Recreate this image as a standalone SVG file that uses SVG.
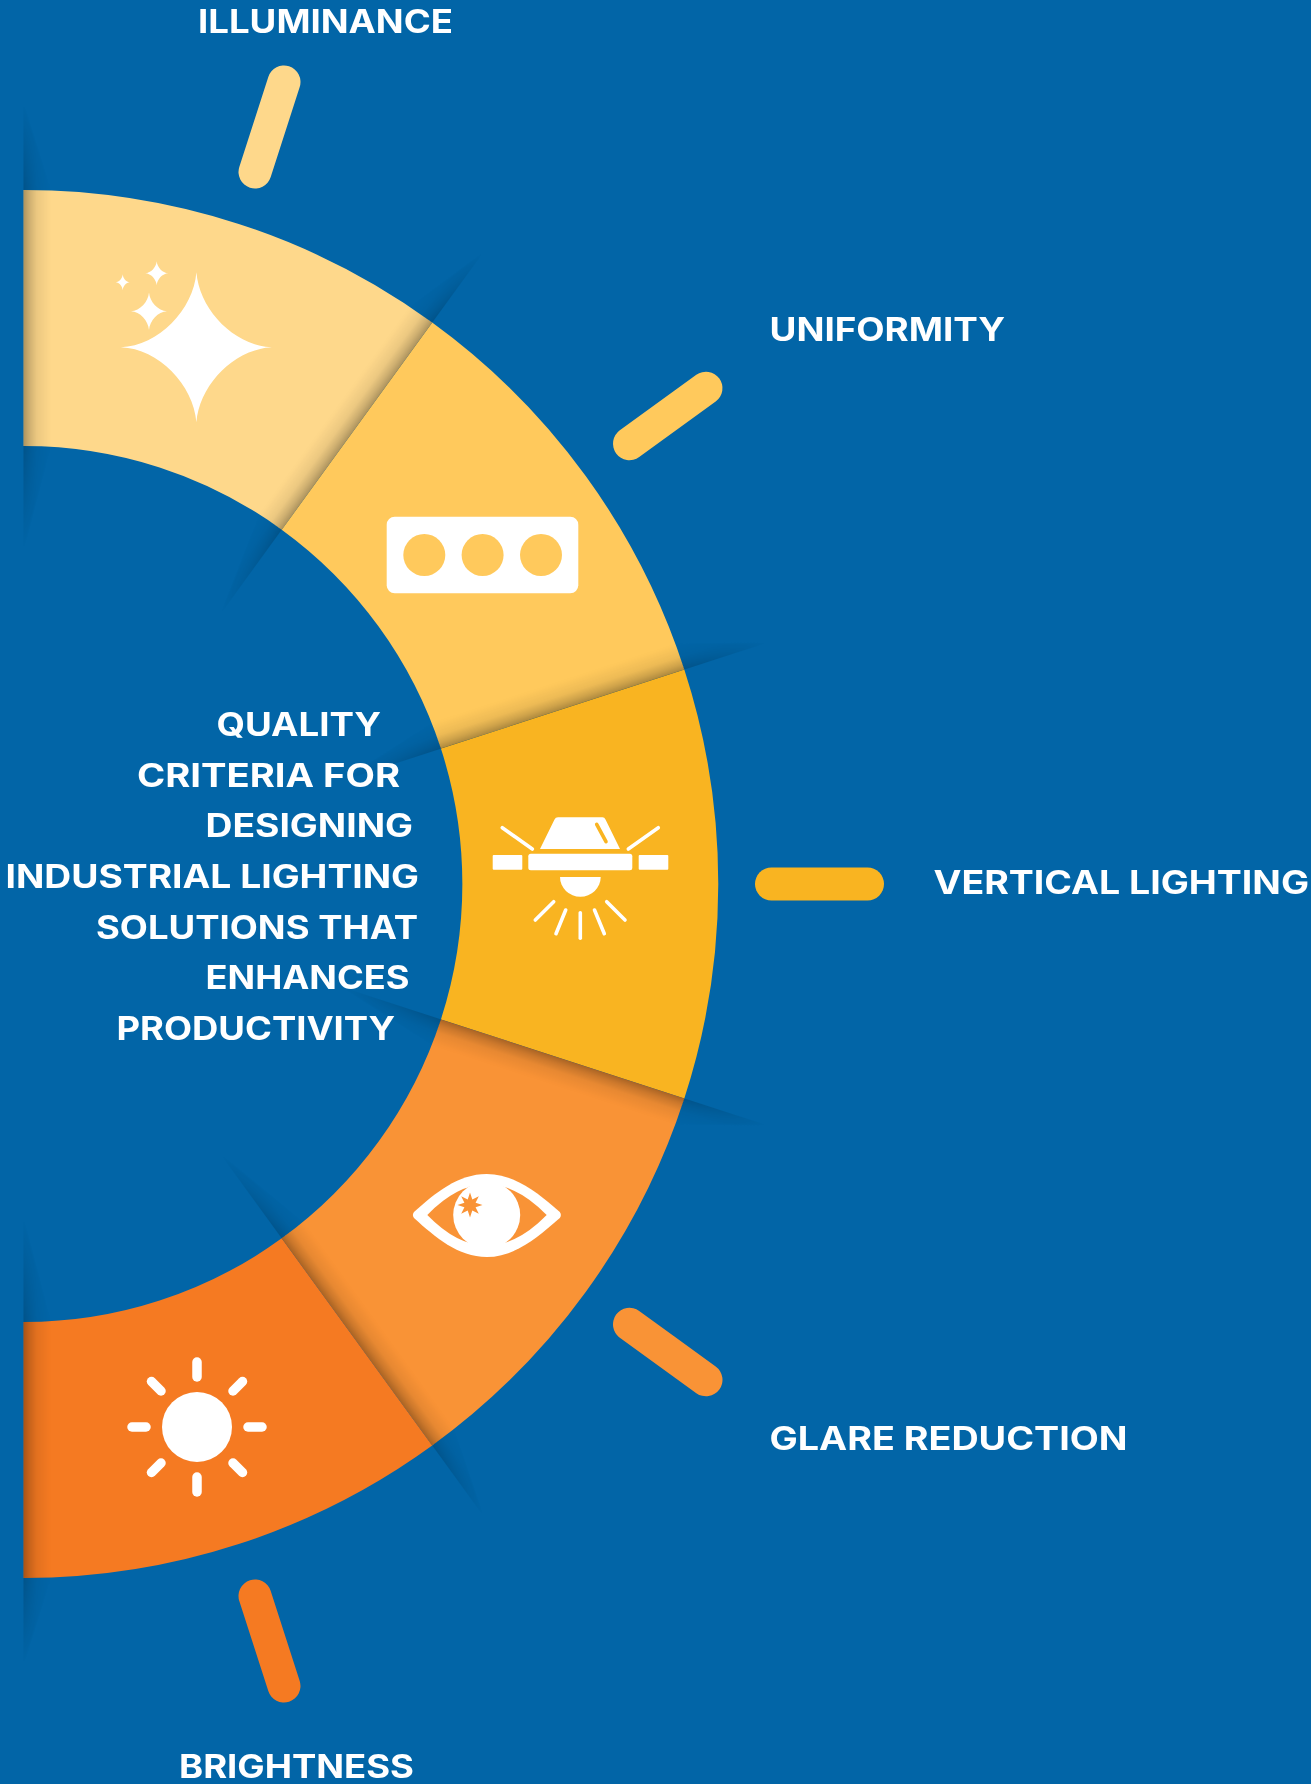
<svg xmlns="http://www.w3.org/2000/svg" xmlns:xlink="http://www.w3.org/1999/xlink" width="1311" height="1784" viewBox="0 0 1311 1784">
<style>
.t{font-family:"Inter","Liberation Sans",sans-serif;font-weight:700;font-size:32px;fill:#fff}
.w{fill:#fff}
.ray{stroke:#fff;stroke-width:3.6;stroke-linecap:round;fill:none}
.sun{stroke:#fff;stroke-width:9.5;stroke-linecap:round;fill:none}
.tick{stroke-width:33;stroke-linecap:round;fill:none}
</style>
<defs>
<linearGradient id="sg" x1="0" y1="1" x2="0" y2="0">
<stop offset="0" stop-color="#000" stop-opacity=".32"/>
<stop offset=".2" stop-color="#000" stop-opacity=".2"/>
<stop offset=".5" stop-color="#000" stop-opacity=".07"/>
<stop offset="1" stop-color="#000" stop-opacity="0"/>
</linearGradient>
<polygon id="sh" points="335,0 780,0 694,-27 438,-27" fill="url(#sg)"/>
<radialGradient id="rg" gradientUnits="userSpaceOnUse" cx="24.3" cy="884" r="780">
<stop offset=".43" stop-color="#fff" stop-opacity="0"/>
<stop offset=".5615" stop-color="#fff" stop-opacity=".55"/>
<stop offset=".5615" stop-color="#fff" stop-opacity="1"/>
<stop offset=".8897" stop-color="#fff" stop-opacity="1"/>
<stop offset=".8897" stop-color="#fff" stop-opacity=".55"/>
<stop offset="1" stop-color="#fff" stop-opacity="0"/>
</radialGradient>
<mask id="rm" maskUnits="userSpaceOnUse" x="0" y="0" width="1311" height="1784"><rect width="1311" height="1784" fill="url(#rg)"/></mask>
<path id="star" d="M0-1C.04-.5.5-.02 1 0C.5.02.04.5 0 1C-.04.5-.5.02-1 0C-.5-.02-.04-.5 0-1Z" fill="#fff"/>
</defs>
<rect width="1311" height="1784" fill="#0265a7"/>
<g id="ring-illuminance"><path d="M23.5 190H24.3A694 694 0 0 1 432.2 322.5L281.7 529.7A438 438 0 0 0 24.3 446H23.5Z" fill="#fed88b"/></g>
<g id="ring-uniformity"><path d="M432.2 322.5A694 694 0 0 1 684.3 669.5L440.9 748.6A438 438 0 0 0 281.7 529.7Z" fill="#ffc95c"/></g>
<g id="ring-vertical"><path d="M684.3 669.5A694 694 0 0 1 684.3 1098.5L440.9 1019.4A438 438 0 0 0 440.9 748.6Z" fill="#f9b421"/></g>
<g id="ring-glare"><path d="M684.3 1098.5A694 694 0 0 1 432.2 1445.5L281.7 1238.3A438 438 0 0 0 440.9 1019.4Z" fill="#f99336"/></g>
<g id="ring-brightness"><path d="M432.2 1445.5A694 694 0 0 1 24.3 1578H23.5V1322H24.3A438 438 0 0 0 281.7 1238.3Z" fill="#f57a22"/></g>
<g id="shadows" mask="url(#rm)">
<g transform="translate(24.3 884)">
<use xlink:href="#sh" href="#sh" transform="rotate(-54)"/>
<use xlink:href="#sh" href="#sh" transform="rotate(-18)"/>
<use xlink:href="#sh" href="#sh" transform="rotate(18) scale(1 -1)"/>
<use xlink:href="#sh" href="#sh" transform="rotate(54)"/>
</g>
<g transform="translate(23.5 884)">
<use xlink:href="#sh" href="#sh" transform="rotate(-90) scale(1 -1)"/>
<use xlink:href="#sh" href="#sh" transform="rotate(90)"/>
</g>
</g>
<g id="connectors">
<line class="tick" x1="255" y1="172" x2="284" y2="82" stroke="#fed88b"/>
<line class="tick" x1="629.5" y1="443.7" x2="706" y2="388.2" stroke="#ffc95c"/>
<line class="tick" x1="771.5" y1="884" x2="867.5" y2="884" stroke="#f9b421"/>
<line class="tick" x1="629.5" y1="1324.3" x2="706" y2="1379.8" stroke="#f99336"/>
<line class="tick" x1="255" y1="1596" x2="284" y2="1686" stroke="#f57a22"/>
</g>
<g id="icon-illuminance">
<use href="#star" transform="translate(196.4 347.3) scale(75.5 75)"/>
<use href="#star" transform="translate(149 311.3) scale(18 18.7)"/>
<use href="#star" transform="translate(156.7 273.3) scale(11.5 12)"/>
<use href="#star" transform="translate(122.7 282.3) scale(7 8)"/>
</g>
<g id="icon-uniformity">
<rect class="w" x="386.7" y="516.7" width="191.6" height="76.6" rx="8"/>
<circle cx="424.3" cy="555" r="21" fill="#ffc95c"/>
<circle cx="482.6" cy="555" r="21" fill="#ffc95c"/>
<circle cx="541" cy="555" r="21" fill="#ffc95c"/>
</g>
<g id="icon-vertical">
<path class="w" d="M558 817.3H602.5Q604.5 817.3 605.5 819.5L620 849H540L554.5 819.5Q555.5 817.3 558 817.3Z"/>
<line x1="596.7" y1="824.3" x2="606" y2="841.7" stroke="#f9b421" stroke-width="3.6" stroke-linecap="round"/>
<rect class="w" x="528.3" y="853.7" width="104" height="16.6" rx="2.5"/>
<rect class="w" x="492.7" y="855" width="29.6" height="14.7" rx="1"/>
<rect class="w" x="638.7" y="855" width="29.6" height="14.7" rx="1"/>
<path class="w" d="M560 877H600.7A20.3 19.7 0 0 1 560 877Z"/>
<line class="ray" x1="502.3" y1="827.7" x2="532.3" y2="849"/>
<line class="ray" x1="658.3" y1="827.7" x2="628.3" y2="849"/>
<line class="ray" x1="580.3" y1="912.7" x2="580.3" y2="938.3"/>
<line class="ray" x1="565.7" y1="910" x2="556" y2="933.7"/>
<line class="ray" x1="594.5" y1="910" x2="604.3" y2="933.7"/>
<line class="ray" x1="553.7" y1="901.7" x2="535.3" y2="920"/>
<line class="ray" x1="606.7" y1="901.7" x2="625" y2="920"/>
</g>
<g id="icon-glare">
<path class="w" d="M414 1212C435 1193 458 1174 486.7 1174C515 1174 538 1193 559.8 1212Q562 1215 559.8 1218C538 1237 515 1257 486.7 1257C458 1257 435 1237 414 1218Q411.8 1215 414 1212Z"/>
<path d="M427.3 1215Q486.7 1153.7 546.7 1215Q486.7 1276.3 427.3 1215Z" fill="#f99336"/>
<circle class="w" cx="486.7" cy="1215" r="33.5"/>
<polygon fill="#f99336" points="470,1192.5 472.3,1199.4 478.8,1196.2 475.6,1202.7 482.5,1205 475.6,1207.3 478.8,1213.8 472.3,1210.6 470,1217.5 467.7,1210.6 461.2,1213.8 464.4,1207.3 457.5,1205 464.4,1202.7 461.2,1196.2 467.7,1199.4"/>
</g>
<g id="icon-brightness">
<circle class="w" cx="197" cy="1427" r="35"/>
<line class="sun" x1="197" y1="1362" x2="197" y2="1377"/>
<line class="sun" x1="197" y1="1477" x2="197" y2="1492"/>
<line class="sun" x1="132" y1="1427" x2="146" y2="1427"/>
<line class="sun" x1="248" y1="1427" x2="262" y2="1427"/>
<line class="sun" x1="151.5" y1="1381.5" x2="161" y2="1391"/>
<line class="sun" x1="242.5" y1="1381.5" x2="233" y2="1391"/>
<line class="sun" x1="151.5" y1="1472.5" x2="161" y2="1463"/>
<line class="sun" x1="242.5" y1="1472.5" x2="233" y2="1463"/>
</g>
<g id="label-illuminance"><text class="t" x="198" y="33" textLength="255" lengthAdjust="spacingAndGlyphs">ILLUMINANCE</text></g>
<g id="label-uniformity"><text class="t" x="769.5" y="340.5" textLength="235.5" lengthAdjust="spacingAndGlyphs">UNIFORMITY</text></g>
<g id="label-vertical"><text class="t" x="933.5" y="893.5" textLength="375.5" lengthAdjust="spacingAndGlyphs">VERTICAL LIGHTING</text></g>
<g id="label-glare"><text class="t" x="769.5" y="1450" textLength="358" lengthAdjust="spacingAndGlyphs">GLARE REDUCTION</text></g>
<g id="label-brightness"><text class="t" x="179" y="1777.5" textLength="235" lengthAdjust="spacingAndGlyphs">BRIGHTNESS</text></g>
<g id="title">
<text class="t" x="216.5" y="736" textLength="164.5" lengthAdjust="spacingAndGlyphs">QUALITY</text>
<text class="t" x="137" y="786.7" textLength="263" lengthAdjust="spacingAndGlyphs">CRITERIA FOR</text>
<text class="t" x="205.5" y="836.7" textLength="207.5" lengthAdjust="spacingAndGlyphs">DESIGNING</text>
<text class="t" x="5.5" y="888" textLength="413.5" lengthAdjust="spacingAndGlyphs">INDUSTRIAL LIGHTING</text>
<text class="t" x="96" y="938.7" textLength="322" lengthAdjust="spacingAndGlyphs">SOLUTIONS THAT</text>
<text class="t" x="205.5" y="989" textLength="204" lengthAdjust="spacingAndGlyphs">ENHANCES</text>
<text class="t" x="116.5" y="1040" textLength="278.5" lengthAdjust="spacingAndGlyphs">PRODUCTIVITY</text>
</g>
</svg>
